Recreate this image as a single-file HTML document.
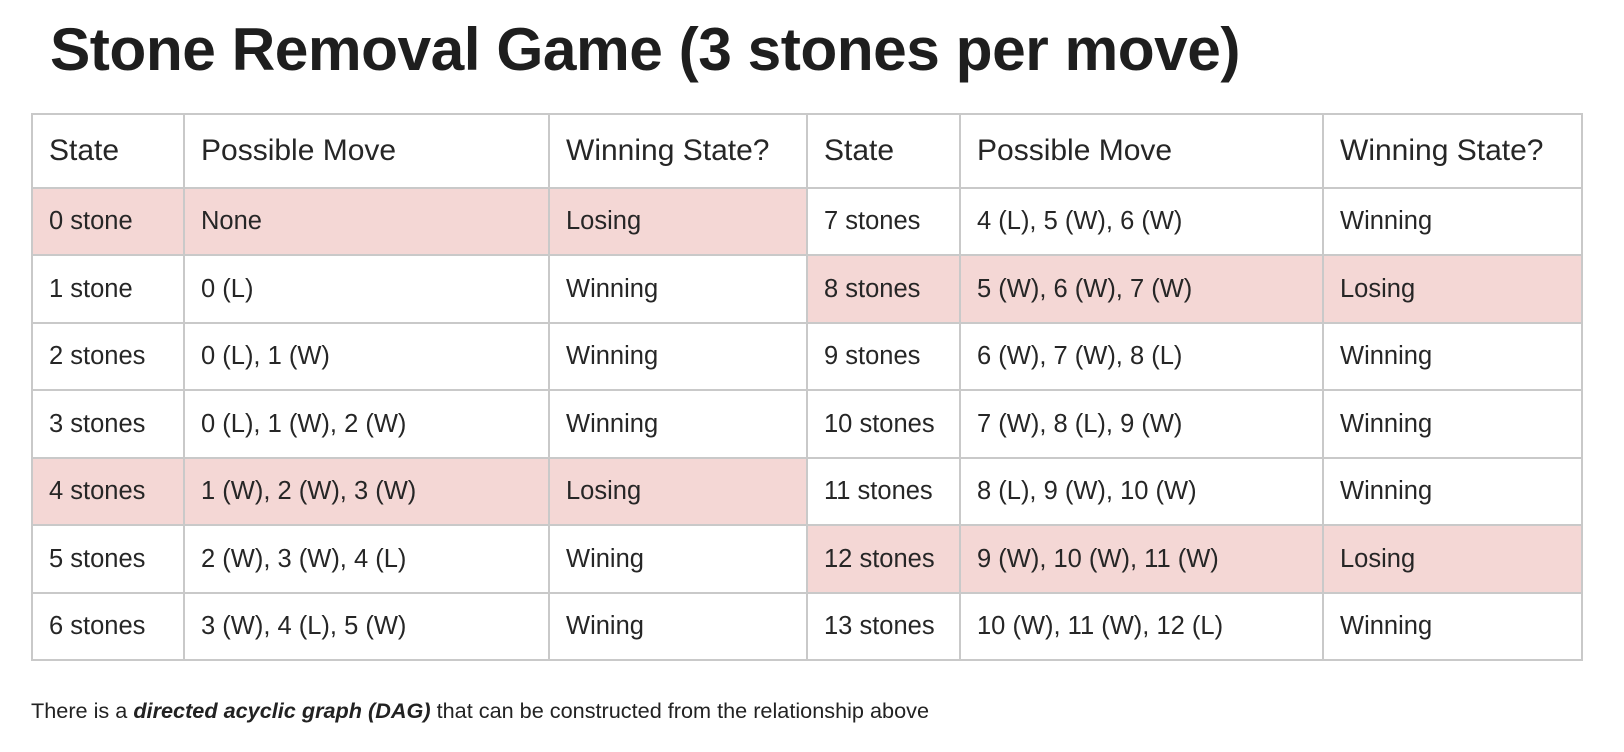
<!DOCTYPE html>
<html><head><meta charset="utf-8"><style>
html,body{margin:0;padding:0;background:#fff;width:1624px;height:752px;overflow:hidden;font-family:"Liberation Sans",sans-serif;color:#222}
#title{position:absolute;left:50px;top:15px;font-size:60px;font-weight:bold;white-space:nowrap;transform-origin:0 0;letter-spacing:-0.5px;color:#1e1e1e}
table{position:absolute;left:31px;top:113px;border-collapse:collapse;table-layout:fixed}
td{border:2px solid #c9c9c9;padding:0 0 0 16px;font-size:25.5px;color:#262626;height:67px;box-sizing:border-box;white-space:nowrap}
tr.tall td{height:68px}
tr.hd td{height:74px;font-size:30px}
td.p{background:#f4d7d5}
#foot{position:absolute;left:31px;top:700px;font-size:21px;white-space:nowrap;transform-origin:0 0;color:#222}
</style></head><body>
<div id="title">Stone Removal Game (3 stones per move)</div>
<table id="tbl">
<colgroup><col style="width:152px"><col style="width:365px"><col style="width:258px"><col style="width:153px"><col style="width:363px"><col style="width:259px"></colgroup>
<tbody id="tb"></tbody></table>
<div id="foot">There is a <b><i>directed acyclic graph (DAG)</i></b> that can be constructed from the relationship above</div>
<script>
const headers=["State","Possible Move","Winning State?","State","Possible Move","Winning State?"];
const leftRows=[["0 stone","None","Losing",1],["1 stone","0 (L)","Winning",0],["2 stones","0 (L), 1 (W)","Winning",0],["3 stones","0 (L), 1 (W), 2 (W)","Winning",0],["4 stones","1 (W), 2 (W), 3 (W)","Losing",1],["5 stones","2 (W), 3 (W), 4 (L)","Wining",0],["6 stones","3 (W), 4 (L), 5 (W)","Wining",0]];
const rightRows=[["7 stones","4 (L), 5 (W), 6 (W)","Winning",0],["8 stones","5 (W), 6 (W), 7 (W)","Losing",1],["9 stones","6 (W), 7 (W), 8 (L)","Winning",0],["10 stones","7 (W), 8 (L), 9 (W)","Winning",0],["11 stones","8 (L), 9 (W), 10 (W)","Winning",0],["12 stones","9 (W), 10 (W), 11 (W)","Losing",1],["13 stones","10 (W), 11 (W), 12 (L)","Winning",0]];
const tb=document.getElementById('tb');
let hr=document.createElement('tr');hr.className='hd';


headers.forEach(h=>{const td=document.createElement('td');td.textContent=h;


hr.appendChild(td);});
tb.appendChild(hr);
for(let i=0;i<leftRows.length;i++){
 const tr=document.createElement('tr');
 if(i%2===1)tr.className='tall';
 
 
 [leftRows[i],rightRows[i]].forEach(r=>{
  for(let j=0;j<3;j++){const td=document.createElement('td');td.textContent=r[j];if(r[3])td.className='p';
   
   
   tr.appendChild(td);}
 });
 tb.appendChild(tr);
}
function fit(id,w){const e=document.getElementById(id);const s=w/e.getBoundingClientRect().width;e.style.transform='scaleX('+s+')';}
fit('title',1190);fit('foot',898);
</script>
</body></html>
